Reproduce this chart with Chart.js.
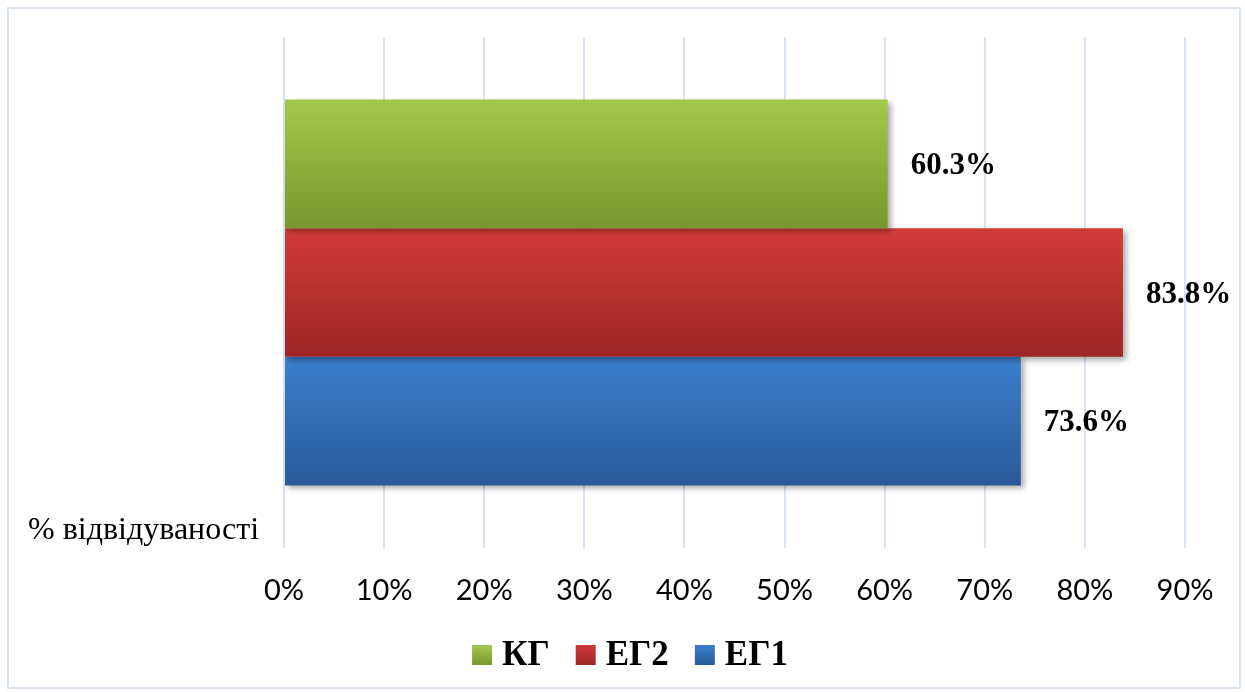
<!DOCTYPE html>
<html>
<head>
<meta charset="utf-8">
<script src="https://cdn.jsdelivr.net/npm/chart.js@4/dist/chart.umd.min.js"></script>
<style>
  html, body { margin: 0; padding: 0; background: #fff; }
  #wrap { width: 1245px; height: 692px; }
</style>
</head>
<body>
<div id="wrap"><canvas id="c" width="1245" height="692"></canvas></div>
<script>
const categories = ['% відвідуваності'];
const seriesNames = ['КГ', 'ЕГ2', 'ЕГ1'];
const kgValues = [60.3];
const eg2Values = [83.8];
const eg1Values = [73.6];
const xTickValues = [0, 10, 20, 30, 40, 50, 60, 70, 80, 90];

const gradStops = [
  ['#a3c94b', '#76982e'],
  ['#d23c38', '#9c2525'],
  ['#3b7fce', '#295a98']
];
const midColors = ['#8db33d', '#b83030', '#3270b7'];

const serif = '"Liberation Serif", "Times New Roman", serif';
const sans = 'Lato, "Open Sans", sans-serif';

const framePlugin = {
  id: 'frame',
  beforeDraw(chart) {
    const ctx = chart.ctx;
    ctx.save();
    ctx.fillStyle = '#ffffff';
    ctx.fillRect(0, 0, chart.width, chart.height);
    ctx.strokeStyle = '#dae3f0';
    ctx.lineWidth = 2;
    ctx.strokeRect(8, 8, 1232, 680);
    ctx.restore();
  }
};

const barStylePlugin = {
  id: 'barStyle',
  beforeDatasetsDraw(chart) {
    const ctx = chart.ctx;
    chart.data.datasets.forEach((ds, di) => {
      const meta = chart.getDatasetMeta(di);
      meta.data.forEach(el => {
        const top = el.y - el.height / 2;
        const g = ctx.createLinearGradient(0, top, 0, top + el.height);
        g.addColorStop(0, gradStops[di][0]);
        g.addColorStop(1, gradStops[di][1]);
        el.options = Object.assign({}, el.options, { backgroundColor: g });
      });
    });
    ctx.save();
    ctx.shadowColor = 'rgba(0,0,0,0.35)';
    ctx.shadowBlur = 6;
    ctx.shadowOffsetX = 3;
    ctx.shadowOffsetY = 3;
  },
  afterDatasetsDraw(chart) {
    const ctx = chart.ctx;
    ctx.restore();
    // value labels
    ctx.save();
    ctx.font = 'bold 31px ' + serif;
    ctx.fillStyle = '#000';
    ctx.textAlign = 'left';
    ctx.textBaseline = 'middle';
    chart.data.datasets.forEach((ds, di) => {
      const meta = chart.getDatasetMeta(di);
      meta.data.forEach((el, i) => {
        ctx.fillText(ds.data[i].toFixed(1) + '%', el.x + 23, el.y + 2);
      });
    });
    // category label
    ctx.font = '32px ' + serif;
    ctx.textAlign = 'left';
    ctx.fillText(categories[0], 28, 531);
    ctx.restore();
  }
};

const legendPlugin = {
  id: 'customLegend',
  afterDraw(chart) {
    const ctx = chart.ctx;
    ctx.save();
    ctx.font = 'bold 35px ' + serif;
    ctx.textBaseline = 'middle';
    ctx.textAlign = 'left';
    const box = 20, gap = 10, pad = 26, cy = 655;
    const widths = chart.data.datasets.map(ds => box + gap + ctx.measureText(ds.label).width);
    const total = widths.reduce((a, b) => a + b, 0) + pad * (widths.length - 1);
    let x = 630 - total / 2;
    chart.data.datasets.forEach((ds, di) => {
      const g = ctx.createLinearGradient(0, cy - box / 2, 0, cy + box / 2);
      g.addColorStop(0, gradStops[di][0]);
      g.addColorStop(1, gradStops[di][1]);
      ctx.fillStyle = g;
      ctx.fillRect(x, cy - box / 2, box, box);
      ctx.fillStyle = '#000';
      ctx.fillText(ds.label, x + box + gap, cy + 1);
      x += widths[di] + pad;
    });
    ctx.restore();
  }
};

new Chart(document.getElementById('c'), {
  type: 'bar',
  data: {
    labels: categories,
    datasets: [
      { label: seriesNames[0], data: kgValues, backgroundColor: midColors[0] },
      { label: seriesNames[1], data: eg2Values, backgroundColor: midColors[1] },
      { label: seriesNames[2], data: eg1Values, backgroundColor: midColors[2] }
    ]
  },
  options: {
    indexAxis: 'y',
    responsive: false,
    animation: false,
    events: [],
    layout: { padding: { left: 284, right: 60, top: 37, bottom: 84 } },
    datasets: { bar: { categoryPercentage: 0.755, barPercentage: 1.0, borderWidth: 0, clip: false } },
    scales: {
      x: {
        min: 0,
        max: 90,
        afterBuildTicks(scale) { scale.ticks = xTickValues.map(v => ({ value: v })); },
        afterFit(scale) { scale.height = 60; },
        grid: { color: '#d9e4f2', lineWidth: 2, drawTicks: false },
        border: { display: false },
        ticks: {
          padding: 25,
          color: '#000',
          font: { family: sans, size: 29 },
          callback: v => v + '%'
        }
      },
      y: { display: false }
    },
    plugins: {
      legend: { display: false },
      tooltip: { enabled: false }
    }
  },
  plugins: [framePlugin, barStylePlugin, legendPlugin]
});
</script>
</body>
</html>
